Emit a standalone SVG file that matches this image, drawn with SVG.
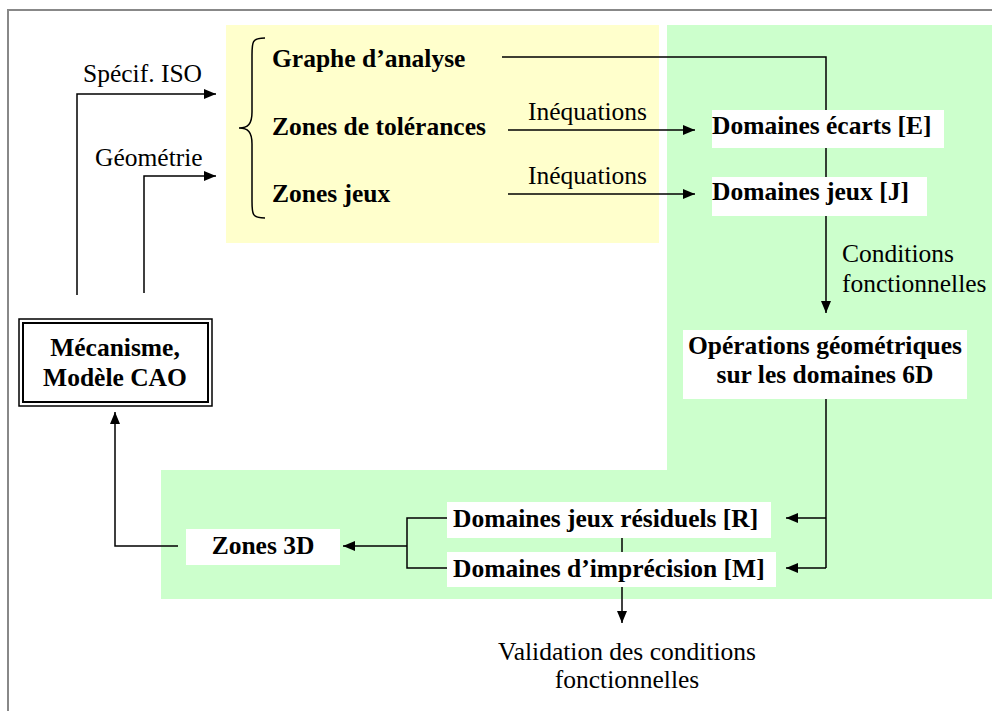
<svg xmlns="http://www.w3.org/2000/svg" width="992" height="711" viewBox="0 0 992 711">
<style>
.t{font-family:"Liberation Serif","Times New Roman",serif;font-size:25.5px;fill:#000}
.b{font-family:"Liberation Serif","Times New Roman",serif;font-size:25.5px;font-weight:bold;fill:#000}
.c{fill:none;stroke:#000;stroke-width:1.5}
.box{fill:#fff}
</style>
<defs>
<marker id="ah" viewBox="0 0 12 10" refX="12" refY="5" markerWidth="12" markerHeight="10" markerUnits="userSpaceOnUse" orient="auto">
<path d="M0,0 L12,5 L0,10 Z" fill="#000"/>
</marker>
</defs>
<rect x="0" y="0" width="992" height="711" fill="#fff"/>
<rect x="8" y="10" width="1000" height="720" fill="none" stroke="#888" stroke-width="2"/>
<g id="zones">
<rect x="226" y="25" width="433" height="218" fill="#FFFFCC"/>
<path d="M667,25 H992 V599 H161 V470 H667 Z" fill="#CCFFCC"/>
</g>
<g id="connectors">
<path class="c" d="M77,295 V94 H216" marker-end="url(#ah)"/>
<path class="c" d="M144,293 V176 H216" marker-end="url(#ah)"/>
<path class="c" d="M502,57 H826 V313" marker-end="url(#ah)"/>
<path class="c" d="M508,130 H695" marker-end="url(#ah)"/>
<path class="c" d="M508,194 H695" marker-end="url(#ah)"/>
<path class="c" d="M826,399 V568"/>
<path class="c" d="M826,518 H786" marker-end="url(#ah)"/>
<path class="c" d="M826,568 H786" marker-end="url(#ah)"/>
<path class="c" d="M622,530 V623" marker-end="url(#ah)"/>
<path class="c" d="M447,518 H407 V568 H447"/>
<path class="c" d="M407,546 H343" marker-end="url(#ah)"/>
<path class="c" d="M178,546 H115 V412" marker-end="url(#ah)"/>
<path class="c" d="M265,38 C252,38 252,42 252,55 V112 C252,124 248,128 239,128 C248,128 252,132 252,144 V201 C252,214 252,218 265,218"/>
</g>
<text class="t" x="83" y="82">Spécif. ISO</text>
<text class="t" x="95" y="166">Géométrie</text>
<text class="t" x="528" y="120">Inéquations</text>
<text class="t" x="528" y="184">Inéquations</text>
<text class="t" x="842" y="262">Conditions</text>
<text class="t" x="842" y="292">fonctionnelles</text>
<text class="t" x="627" y="660" text-anchor="middle">Validation des conditions</text>
<text class="t" x="627" y="688" text-anchor="middle">fonctionnelles</text>
<g id="graphe"><text class="b" x="272" y="67">Graphe d’analyse</text></g>
<g id="tolerances"><text class="b" x="272" y="135">Zones de tolérances</text></g>
<g id="zonesjeux"><text class="b" x="272" y="202">Zones jeux</text></g>
<g id="ecarts"><rect class="box" x="712" y="110" width="232" height="38"/><text class="b" x="712" y="134">Domaines écarts [E]</text></g>
<g id="jeux"><rect class="box" x="712" y="177" width="215" height="39"/><text class="b" x="712" y="200">Domaines jeux [J]</text></g>
<g id="operations"><rect class="box" x="683" y="330" width="284" height="69"/><text class="b" x="825" y="354" text-anchor="middle">Opérations géométriques</text><text class="b" x="825" y="383" text-anchor="middle">sur les domaines 6D</text></g>
<g id="residuels"><rect class="box" x="447" y="502" width="324" height="36"/><text class="b" x="453" y="527">Domaines jeux résiduels [R]</text></g>
<g id="imprecision"><rect class="box" x="447" y="552" width="329" height="35"/><text class="b" x="453" y="577">Domaines d’imprécision [M]</text></g>
<g id="zones3d"><rect class="box" x="186" y="529" width="154" height="36"/><text class="b" x="263" y="554" text-anchor="middle">Zones 3D</text></g>
<g id="mecanisme">
<rect x="19" y="319" width="193" height="87" fill="#fff" stroke="#000" stroke-width="1.5"/>
<rect x="23" y="323" width="185" height="79" fill="none" stroke="#000" stroke-width="2"/>
<text class="b" x="115" y="356" text-anchor="middle">Mécanisme,</text>
<text class="b" x="115" y="386" text-anchor="middle">Modèle CAO</text>
</g>
</svg>
